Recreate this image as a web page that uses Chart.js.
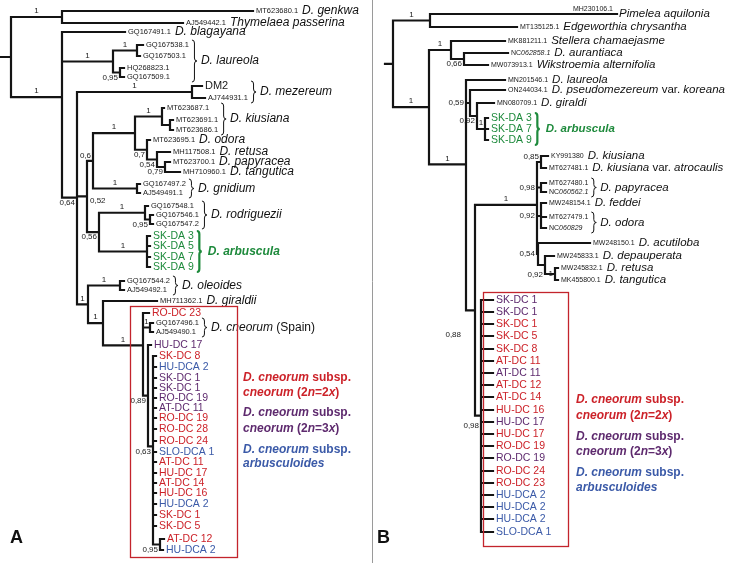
<!DOCTYPE html>
<html><head><meta charset="utf-8">
<script src="https://cdn.jsdelivr.net/npm/chart.js@4.4.1/dist/chart.umd.min.js"></script>
<style>html,body{margin:0;padding:0;background:#fff;overflow:hidden}canvas{display:block}</style>
</head><body>
<canvas id="c" width="729" height="563"></canvas>
<script>
// ===== Panel A tree: internal nodes [id, parent, branch length] =====
const nodesA = [
 ['R',null,11],
 ['C1','R',51],['C2','R',51],
 ['LA','C2',51],['LA1','LA',24],['LA2','LA',7],
 ['X','C2',15],['ME','X',115],['R2','X',10],['Q','R2',6],
 ['O1','Q',42],['K','O1',27],['K2','K',8],['O2','O1',12],['O3','O2',10],['O4','O3',8],
 ['GN','Q',44],['S','R2',12],['RD','S',46],['RD2','RD',5],['AR','S',48],
 ['Z','X',11],['OL','Z',32],['W','Z',15],['C','W',40],['SP','C',7],['D','C',5],['E','D',5],['F','E',7]
];
// tips [id, parent, branch length, row, label, group]
const tipsA = [
 ['a1','C1',191,11,'MT623680.1','k'],['a2','C1',121,23,'AJ549442.1','k'],
 ['a3','C2',63,32,'GQ167491.1','k'],
 ['a4','LA1',6,45,'GQ167538.1','k'],['a5','LA1',3,56,'GQ167503.1','k'],
 ['a6','LA2',4,68,'HQ268823.1','k'],['a7','LA2',4,77,'GQ167509.1','k'],
 ['a8','ME',10,86,'DM2','d'],['a9','ME',13,98,'AJ744931.1','k'],
 ['a10','K',2,108,'MT623687.1','k'],['a11','K2',3,120,'MT623691.1','k'],['a12','K2',3,130,'MT623686.1','k'],
 ['a13','O2',3,140,'MT623695.1','k'],['a14','O3',13,152,'MH117508.1','k'],
 ['a15','O4',5,162,'MT623700.1','k'],['a16','O4',15,172,'MH710960.1','k'],
 ['a17','GN',3,184,'GQ167497.2','k'],['a18','GN',3,193,'AJ549491.1','k'],
 ['a19','RD',3,206,'GQ167548.1','k'],['a20','RD2',3,215,'GQ167546.1','k'],['a21','RD2',3,224,'GQ167547.2','k'],
 ['a22','AR',3,236,'SK-DA 3','g'],['a23','AR',3,246,'SK-DA 5','g'],['a24','AR',3,257,'SK-DA 7','g'],['a25','AR',3,267,'SK-DA 9','g'],
 ['a26','OL',4,281,'GQ167544.2','k'],['a27','OL',4,290,'AJ549492.1','k'],
 ['a28','W',54,301,'MH711362.1','k'],
 ['a29','C',6,313,'RO-DC 23','r'],
 ['a30','SP',3,323,'GQ167496.1','k'],['a31','SP',3,332,'AJ549490.1','k'],
 ['a32','D',3,345,'HU-DC 17','p'],
 ['a33','E',3,356,'SK-DC 8','r'],['a34','E',3,367,'HU-DCA 2','b'],['a35','E',3,378,'SK-DC 1','p'],
 ['a36','E',3,388,'SK-DC 1','p'],['a37','E',3,398,'RO-DC 19','p'],['a38','E',3,408,'AT-DC 11','p'],
 ['a39','E',3,418,'RO-DC 19','r'],['a40','E',3,429,'RO-DC 28','r'],['a41','E',3,441,'RO-DC 24','r'],
 ['a42','E',3,452,'SLO-DCA 1','b'],['a43','E',3,462,'AT-DC 11','r'],['a44','E',3,473,'HU-DC 17','r'],
 ['a45','E',3,483,'AT-DC 14','r'],['a46','E',3,493,'HU-DC 16','r'],['a47','E',3,504,'HU-DCA 2','b'],
 ['a48','E',3,515,'SK-DC 1','r'],['a49','E',3,526,'SK-DC 5','r'],
 ['a50','F',4,539,'AT-DC 12','r'],['a51','F',3,550,'HU-DCA 2','b']
];
// support values [node, value, placement]
const supportA = [
 ['C1','1','a'],['C2','1','a'],['LA','1','a'],['LA1','1','a'],['LA2','0,95','lb'],
 ['ME','1','a'],['X','0,64','lb'],['R2','0,52','rb'],['Q','0,6','la'],['O1','1','a'],['K','1','a'],
 ['O2','0,7','lb'],['O3','0,54','lb'],['O4','0,79','lb'],['GN','1','a'],['S','0,56','lb'],
 ['RD','1','a'],['RD2','0,95','lb'],['AR','1','a'],['Z','1','a'],['OL','1','a'],['W','1','a'],
 ['C','1','a'],['SP','1','a'],['D','0,89','lb'],['E','0,63','lb'],['F','0,95','lb']
];
// taxon names [first tip, last tip, name (_ toggles italic), kind]
const cladesA = [
 ['a1','a1','_D. genkwa_','inline'],['a2','a2','_Thymelaea passerina_','inline'],
 ['a3','a3','_D. blagayana_','inline'],['a4','a7','_D. laureola_','brace'],
 ['a8','a9','_D. mezereum_','brace'],['a10','a12','_D. kiusiana_','brace'],
 ['a13','a13','_D. odora_','inline'],['a14','a14','_D. retusa_','inline'],
 ['a15','a15','_D. papyracea_','inline'],['a16','a16','_D. tangutica_','inline'],
 ['a17','a18','_D. gnidium_','brace'],['a19','a21','_D. rodriguezii_','brace'],
 ['a22','a25','_D. arbuscula_','braceg'],['a26','a27','_D. oleoides_','brace'],
 ['a28','a28','_D. giraldii_','inline'],['a30','a31','_D. cneorum_ (Spain)','brace']
];

// ===== Panel B tree =====
const nodesB = [
 ['R',null,8],
 ['P1','R',37],['P2','R',36],['P3','P2',22],['P4','P3',13],
 ['P5','P2',37],['P6','P5',4],['P6b','P6',7],['ARB','P6b',8],
 ['P8','P5',9],['P7','P8',62],['K','P7',4],['PA','P7',4],['OD','P7',4],
 ['L1','P7',1],['L2','L1',7],['L3','L2',10],['CN','P8',6]
];
const tipsB = [
 ['b1','P1',187,14,'MH230106.1','ka'],['b2','P1',87,27,'MT135125.1','k'],
 ['b3','P3',54,41,'MK881211.1','k'],['b4','P4',44,53,'NC_062858.1','k'],['b5','P4',24,65,'MW073913.1','k'],
 ['b6','P5',39,80,'MN201546.1','k'],['b7','P6',35,90,'ON244034.1','k'],['b8','P6b',17,103,'MN080709.1','k'],
 ['b9','ARB',3,118,'SK-DA 3','g'],['b10','ARB',3,129,'SK-DA 7','g'],['b11','ARB',3,140,'SK-DA 9','g'],
 ['b12','K',7,156,'KY991380','k'],['b13','K',5,168,'MT627481.1','k'],
 ['b14','PA',5,183,'MT627480.1','k'],['b15','PA',5,192,'NC_060562.1','k'],
 ['b16','OD',5,203,'MW248154.1','k'],['b17','OD',5,217,'MT627479.1','k'],['b18','OD',5,228,'NC_060829','k'],
 ['b19','L1',52,243,'MW248150.1','k'],['b20','L2',9,256,'MW245833.1','k'],
 ['b21','L3',3,268,'MW245832.1','k'],['b22','L3',3,280,'MK455800.1','k'],
 ['b23','CN',12,300,'SK-DC 1','p'],['b24','CN',12,312,'SK-DC 1','p'],['b25','CN',12,324,'SK-DC 1','r'],
 ['b26','CN',12,336,'SK-DC 5','r'],['b27','CN',12,349,'SK-DC 8','r'],['b28','CN',12,361,'AT-DC 11','r'],
 ['b29','CN',12,373,'AT-DC 11','p'],['b30','CN',12,385,'AT-DC 12','r'],['b31','CN',12,397,'AT-DC 14','r'],
 ['b32','CN',12,410,'HU-DC 16','r'],['b33','CN',12,422,'HU-DC 17','p'],['b34','CN',12,434,'HU-DC 17','r'],
 ['b35','CN',12,446,'RO-DC 19','r'],['b36','CN',12,458,'RO-DC 19','p'],['b37','CN',12,471,'RO-DC 24','r'],
 ['b38','CN',12,483,'RO-DC 23','r'],['b39','CN',12,495,'HU-DCA 2','b'],['b40','CN',12,507,'HU-DCA 2','b'],
 ['b41','CN',12,519,'HU-DCA 2','b'],['b42','CN',12,532,'SLO-DCA 1','b']
];
const supportB = [
 ['P1','1','a'],['P2','1','a'],['P3','1','a'],['P4','0,66','lb'],['P5','1','a'],
 ['P6','0,59','lp'],['P6b','0,92','lb'],['ARB','1','a'],['P7','1','a'],
 ['K','0,85','la'],['PA','0,98','lp'],['OD','0,92','lp'],['L1','0,54','lp'],
 ['L2','0,92','lb2'],['L3','1','l'],['P8','0,88','lp3'],['CN','0,98','lb2']
];
const cladesB = [
 ['b1','b1','_Pimelea aquilonia_','inline'],['b2','b2','_Edgeworthia chrysantha_','inline'],
 ['b3','b3','_Stellera chamaejasme_','inline'],['b4','b4','_D. aurantiaca_','inline'],
 ['b5','b5','_Wikstroemia alternifolia_','inline'],['b6','b6','_D. laureola_','inline'],
 ['b7','b7','_D. pseudomezereum_ var. _koreana_','inline'],['b8','b8','_D. giraldi_','inline'],
 ['b9','b11','_D. arbuscula_','braceg'],
 ['b12','b12','_D. kiusiana_','inline'],['b13','b13','_D. kiusiana_ var. _atrocaulis_','inline'],
 ['b14','b15','_D. papyracea_','brace'],['b16','b16','_D. feddei_','inline'],
 ['b17','b18','_D. odora_','brace'],['b19','b19','_D. acutiloba_','inline'],
 ['b20','b20','_D. depauperata_','inline'],['b21','b21','_D. retusa_','inline'],['b22','b22','_D. tangutica_','inline']
];

// legend text (shared) and group of each line
const legendText = ['_D. cneorum_ subsp.','_cneorum_ (2_n_=2_x_)','_D. cneorum_ subsp.','_cneorum_ (2_n_=3_x_)','_D. cneorum_ subsp.','_arbusculoides_'];
const legendGroup = ['r','r','p','p','b','b'];

// ===== styling / layout =====
const FONT = '"Liberation Sans", Arial, Helvetica, sans-serif';
const COL = {k:'#1a1a1a', ka:'#1a1a1a', d:'#1a1a1a', r:'#cc2229', p:'#5e2a6e', b:'#3b5aa8', g:'#1e8a3c'};
const LAYOUT = {
  A:{axis:'xA', min:-11, acc:7.5, sp:12, legendX:243, legendY:[378,393,413,429,450,464], box:[130,306,237,557], letter:[10,538,'A']},
  B:{axis:'xB', min:-393, acc:7, sp:11.5, legendX:576, legendY:[400,416,437,452,473,488], box:[483,292,568,546], letter:[377,538,'B']}
};

function buildTree(nodes, tips){
  const map = {};
  nodes.forEach(([id,p,len])=>{ map[id]={id,p,len,children:[],tip:false}; });
  tips.forEach(([id,p,len,row,label,g])=>{ map[id]={id,p,len,children:[],tip:true,row,label,g}; });
  Object.values(map).forEach(n=>{ if(n.p!==null){ n.parent=map[n.p]; map[n.p].children.push(n);} });
  const root = Object.values(map).find(n=>n.p===null);
  (function sx(n,x){ n.x=x; n.children.forEach(c=>sx(c,x+c.len)); })(root,0);
  (function sy(n){ if(n.tip){ n.y=n.row; return n.y; }
    const ys=n.children.map(sy); n.y=ys.reduce((a,b)=>a+b,0)/ys.length; n.ymin=Math.min(...ys); n.ymax=Math.max(...ys); return n.y; })(root);
  return {map, root};
}
function branchPoints(T){
  const pts=[];
  Object.values(T.map).forEach(n=>{
    const px = n.parent ? n.parent.x : -n.len;
    pts.push({x:px,y:n.y},{x:n.x,y:n.y},{x:NaN,y:NaN});
    if(!n.tip) pts.push({x:n.x,y:n.ymin},{x:n.x,y:n.ymax},{x:NaN,y:NaN});
  });
  return pts;
}
const TA = buildTree(nodesA, tipsA), TB = buildTree(nodesB, tipsB);
const panels = [
  {T:TA, support:supportA, clades:cladesA, L:LAYOUT.A},
  {T:TB, support:supportB, clades:cladesB, L:LAYOUT.B}
];

function rich(ctx, x, y, text, size, bold, color){
  let cx=x; ctx.fillStyle=color; ctx.textAlign='left';
  text.split('_').forEach((s,i)=>{ if(!s) return;
    ctx.font=(i%2===1?'italic ':'')+(bold?'bold ':'')+size+'px '+FONT;
    ctx.fillText(s,cx,y); cx+=ctx.measureText(s).width; });
  return cx;
}
function brace(ctx,x,y1,y2,lw,color){
  const w=5,m=(y1+y2)/2,h=w*0.5;
  ctx.save(); ctx.strokeStyle=color; ctx.lineWidth=lw; ctx.beginPath();
  ctx.moveTo(x,y1); ctx.quadraticCurveTo(x+h,y1,x+h,y1+3); ctx.lineTo(x+h,m-3);
  ctx.quadraticCurveTo(x+h,m,x+w,m); ctx.quadraticCurveTo(x+h,m,x+h,m+3);
  ctx.lineTo(x+h,y2-3); ctx.quadraticCurveTo(x+h,y2,x,y2); ctx.stroke(); ctx.restore();
}

const textPlugin = {
  id:'treeText',
  afterDatasetsDraw(chart){
    const ctx=chart.ctx, ys=chart.scales.y;
    ctx.save(); ctx.textBaseline='middle';
    // panel separator
    ctx.strokeStyle='#9a9a9a'; ctx.lineWidth=1; ctx.beginPath(); ctx.moveTo(372.5,0); ctx.lineTo(372.5,563); ctx.stroke();
    panels.forEach(P=>{
      const xs=chart.scales[P.L.axis], X=v=>xs.getPixelForValue(v), Y=v=>ys.getPixelForValue(v);
      const ends={};
      // tip labels
      Object.values(P.T.map).filter(n=>n.tip).forEach(n=>{
        let size = n.g==='k'||n.g==='ka' ? P.L.acc : (n.g==='d'?11:10.5);
        if(n.g==='ka'){
          ctx.font=size+'px '+FONT; const w=ctx.measureText(n.label).width;
          rich(ctx, X(n.x)-w-4, Y(n.y)-5, n.label, size, false, COL.k);
          ends[n.id]=X(n.x)-2;
        } else {
          ends[n.id]=rich(ctx, X(n.x)+3, Y(n.y), n.label, size, false, COL[n.g]);
        }
      });
      // taxon names
      P.clades.forEach(([f,l,name,kind])=>{
        const a=P.T.map[f], b=P.T.map[l];
        const group=Object.values(P.T.map).filter(n=>n.tip && n.y>=a.y && n.y<=b.y);
        if(kind==='inline'){
          rich(ctx, ends[f]+4, Y(a.y), name, P.L.sp, false, '#111');
        } else {
          const bx=Math.max(...group.map(n=>ends[n.id]))+3;
          const green=kind==='braceg';
          brace(ctx,bx,Y(a.y)-5,Y(b.y)+5,green?2.2:1,green?COL.g:'#111');
          rich(ctx,bx+(green?11:9),Y((a.y+b.y)/2),name,P.L.sp,green,green?COL.g:'#111');
        }
      });
      // support values
      ctx.font='8px '+FONT; ctx.fillStyle='#1a1a1a';
      P.support.forEach(([id,val,pos])=>{
        const n=P.T.map[id], nx=X(n.x), ny=Y(n.y);
        if(pos==='a'){ ctx.textAlign='center'; ctx.fillText(val,(X(n.parent.x)+nx)/2,ny-6); }
        else if(pos==='rb'){ ctx.textAlign='left'; ctx.fillText(val,nx+3,ny+4); }
        else if(pos==='lp'){ ctx.textAlign='right'; ctx.fillText(val,X(n.parent.x)-2,ny); }
        else if(pos==='lp3'){ ctx.textAlign='right'; ctx.fillText(val,X(n.parent.x)-5,ny+25); }
        else { ctx.textAlign='right';
          const dy={lb:5,la:-5,l:0,lb2:10}[pos];
          ctx.fillText(val,nx-2,ny+dy); }
      });
      ctx.textAlign='left';
      // box
      const bx=P.L.box; ctx.strokeStyle='#c3242c'; ctx.lineWidth=1.3;
      ctx.strokeRect(bx[0]+0.5,bx[1]+0.5,bx[2]-bx[0],bx[3]-bx[1]);
      // legend
      legendText.forEach((t,i)=>rich(ctx,P.L.legendX,P.L.legendY[i],t,12,true,COL[legendGroup[i]]));
      // panel letter
      ctx.font='bold 18px '+FONT; ctx.fillStyle='#111'; ctx.fillText(P.L.letter[2],P.L.letter[0],P.L.letter[1]);
    });
    ctx.restore();
  }
};

const lineStyle = {showLine:true, borderColor:'#141414', borderWidth:2.2, pointRadius:0, spanGaps:false, borderCapStyle:'square', borderJoinStyle:'miter', tension:0};
new Chart(document.getElementById('c'), {
  type:'scatter',
  data:{datasets:[
    Object.assign({label:'A', data:branchPoints(TA), xAxisID:'xA'}, lineStyle),
    Object.assign({label:'B', data:branchPoints(TB), xAxisID:'xB'}, lineStyle)
  ]},
  options:{
    responsive:false, devicePixelRatio:1, animation:false, events:[],
    layout:{padding:0},
    plugins:{legend:{display:false}, tooltip:{enabled:false}},
    scales:{
      xA:{type:'linear', display:false, min:LAYOUT.A.min, max:LAYOUT.A.min+729},
      xB:{type:'linear', display:false, min:LAYOUT.B.min, max:LAYOUT.B.min+729},
      y:{type:'linear', display:false, min:0, max:563, reverse:true}
    }
  },
  plugins:[textPlugin]
});
</script>
</body></html>
